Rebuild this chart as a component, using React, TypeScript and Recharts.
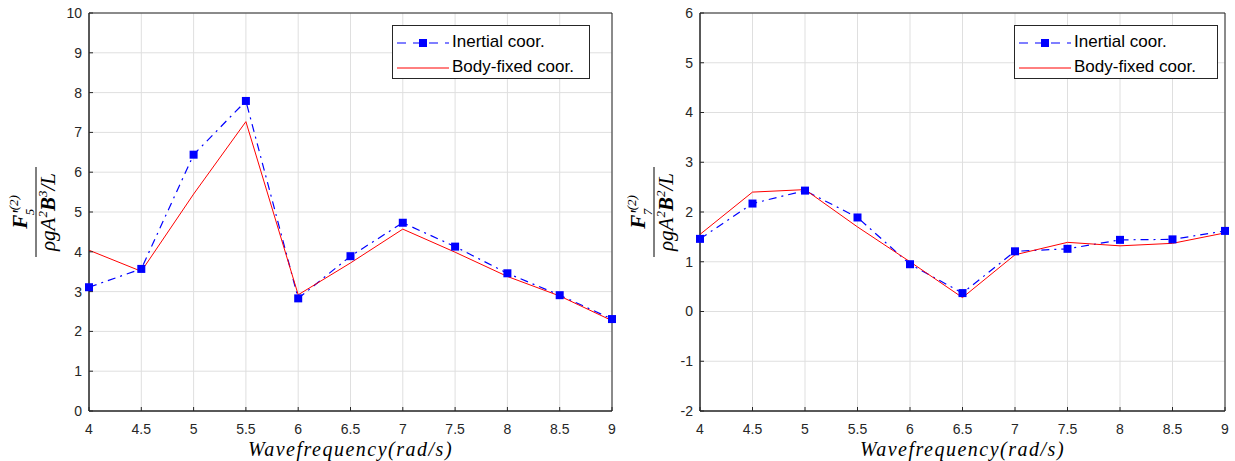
import { LineChart, Line, XAxis, YAxis, CartesianGrid, Legend, Label, ReferenceArea } from "recharts";

const freqs = [4, 4.5, 5, 5.5, 6, 6.5, 7, 7.5, 8, 8.5, 9];
const xTicks = [4, 4.5, 5, 5.5, 6, 6.5, 7, 7.5, 8, 8.5, 9];

// left: F'5
const inertial5 = [3.11, 3.57, 6.44, 7.79, 2.83, 3.89, 4.73, 4.13, 3.46, 2.91, 2.31];
const bodyFixed5 = [4.04, 3.51, 5.45, 7.27, 2.92, 3.72, 4.57, 3.99, 3.38, 2.89, 2.27];
const yTicks5 = [0, 1, 2, 3, 4, 5, 6, 7, 8, 9, 10];

// right: F'7
const inertial7 = [1.46, 2.17, 2.43, 1.89, 0.95, 0.37, 1.21, 1.26, 1.44, 1.45, 1.62];
const bodyFixed7 = [1.55, 2.4, 2.45, 1.7, 1.0, 0.28, 1.14, 1.39, 1.32, 1.37, 1.58];
const yTicks7 = [-2, -1, 0, 1, 2, 3, 4, 5, 6];

const AXIS = "#262626";
const GRID = "#dfdfdf";
const tickFont = { fontFamily: "'Liberation Sans', Arial, sans-serif", fontSize: 14, fill: AXIS };

const SquareDot = (props: any) => {
  const { cx, cy } = props;
  if (cx == null || cy == null) return null;
  return <rect x={cx - 4} y={cy - 4} width={8} height={8} fill="#0000ff" />;
};

const LegendBox = ({ width }: { width: number }) => (
  <div
    style={{
      width,
      height: 54,
      background: "#fff",
      border: `1px solid ${AXIS}`,
      boxSizing: "border-box",
      fontFamily: "'Liberation Sans', Arial, sans-serif",
      fontSize: 17,
      color: "#000",
      position: "relative",
    }}
  >
    <svg width={60} height={54} style={{ position: "absolute", left: 0, top: 0 }}>
      <line x1={4} x2={56} y1={17} y2={17} stroke="#0000ff" strokeWidth={1.2} strokeDasharray="9 7" />
      <rect x={26} y={13} width={8} height={8} fill="#0000ff" />
      <line x1={4} x2={56} y1={42} y2={42} stroke="#ff0000" strokeWidth={1} />
    </svg>
    <div style={{ position: "absolute", left: 59, top: 6, whiteSpace: "nowrap" }}>Inertial coor.</div>
    <div style={{ position: "absolute", left: 59, top: 31, whiteSpace: "nowrap" }}>Body-fixed coor.</div>
  </div>
);

const mathFont = "'Liberation Serif', 'DejaVu Serif', serif";

const YFraction = ({ cx, cy, sub, pow }: { cx: number; cy: number; sub: string; pow: string }) => (
  <g transform={`translate(${cx},${cy}) rotate(-90)`}>
    <text x={0} y={-9} textAnchor="middle" fontFamily={mathFont} fontStyle="italic" fontSize={21} fill="#000">
      <tspan fontWeight="bold">F</tspan>
      <tspan>'</tspan>
      <tspan fontSize={13} dy={-9}>(2)</tspan>
      <tspan fontSize={13} dx={-20} dy={16}>{sub}</tspan>
    </text>
    <line x1={-45} x2={45} y1={0} y2={0} stroke="#000" strokeWidth={1} />
    <text x={0} y={19} textAnchor="middle" fontFamily={mathFont} fontStyle="italic" fontSize={21} fill="#000">
      <tspan>ρgA</tspan>
      <tspan fontSize={13} dy={-8}>2</tspan>
      <tspan dy={8} fontWeight="bold">B</tspan>
      <tspan fontSize={13} dy={-8}>{pow}</tspan>
      <tspan dy={8}>/L</tspan>
    </text>
  </g>
);

const XTitle = ({ cx }: { cx: number }) => (
  <text
    x={cx}
    y={456}
    textAnchor="middle"
    fontFamily={mathFont}
    fontStyle="italic"
    fontSize={20}
    letterSpacing={1.5}
    fill="#000"
  >
    Wavefrequency(rad/s)
  </text>
);

interface PanelProps {
  width: number;
  margin: { top: number; right: number; left: number; bottom: number };
  inertial: number[];
  bodyFixed: number[];
  yTicks: number[];
  sub: string;
  pow: string;
  fracX: number;
  legendLeft: number;
  legendWidth: number;
}

const Panel = ({ width, margin, inertial, bodyFixed, yTicks, sub, pow, fracX, legendLeft, legendWidth }: PanelProps) => {
  const data = freqs.map((f, i) => ({ f, inertial: inertial[i], body: bodyFixed[i] }));
  const yMin = yTicks[0];
  const yMax = yTicks[yTicks.length - 1];
  const plotCx = margin.left + 60 + (width - margin.left - 60 - margin.right) / 2;
  return (
    <LineChart width={width} height={461} data={data} margin={margin}>
      <CartesianGrid stroke={GRID} strokeWidth={1} />
      <XAxis
        dataKey="f"
        type="number"
        domain={[4, 9]}
        ticks={xTicks}
        height={25}
        stroke={AXIS}
        tick={tickFont}
        tickSize={-4}
        tickMargin={17}
        interval={0}
      >
        <Label content={() => <XTitle cx={plotCx} />} />
      </XAxis>
      <YAxis
        type="number"
        domain={[yMin, yMax]}
        ticks={yTicks}
        width={60}
        stroke={AXIS}
        tick={tickFont}
        tickSize={-4}
        tickMargin={11}
        interval={0}
      >
        <Label content={() => <YFraction cx={fracX} cy={212} sub={sub} pow={pow} />} />
      </YAxis>
      <ReferenceArea x1={4} x2={9} y1={yMin} y2={yMax} fill="none" fillOpacity={0} stroke={AXIS} strokeWidth={1} />
      <Line
        dataKey="inertial"
        stroke="#0000ff"
        strokeWidth={1.2}
        strokeDasharray="8 5 2 5"
        dot={<SquareDot />}
        isAnimationActive={false}
      />
      <Line dataKey="body" stroke="#ff0000" strokeWidth={1} dot={false} isAnimationActive={false} />
      <Legend
        layout="vertical"
        align="center"
        verticalAlign="middle"
        content={() => <LegendBox width={legendWidth} />}
        wrapperStyle={{ left: legendLeft, top: 25, width: legendWidth, height: 54 }}
      />
    </LineChart>
  );
};

export default function App() {
  return (
    <div style={{ position: "absolute", left: 0, top: 0, width: 1235, height: 461, background: "#fff" }}>
      <div style={{ position: "absolute", left: 0, top: 0 }}>
        <Panel
          width={620}
          margin={{ top: 13, right: 8, left: 29, bottom: 25 }}
          inertial={inertial5}
          bodyFixed={bodyFixed5}
          yTicks={yTicks5}
          sub="5"
          pow="3"
          fracX={36}
          legendLeft={392}
          legendWidth={198}
        />
      </div>
      <div style={{ position: "absolute", left: 620, top: 0 }}>
        <Panel
          width={615}
          margin={{ top: 13, right: 10, left: 20, bottom: 25 }}
          inertial={inertial7}
          bodyFixed={bodyFixed7}
          yTicks={yTicks7}
          sub="7"
          pow="2"
          fracX={34}
          legendLeft={394}
          legendWidth={204}
        />
      </div>
    </div>
  );
}
